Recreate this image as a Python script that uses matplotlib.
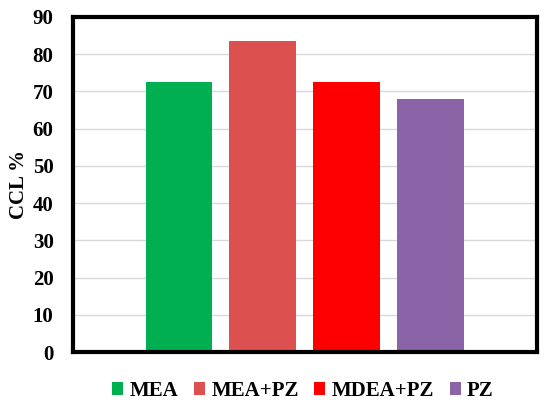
import matplotlib
matplotlib.use("Agg")
import matplotlib.pyplot as plt
from matplotlib.patches import Patch

categories = ["MEA", "MEA+PZ", "MDEA+PZ", "PZ"]
values = [72.6, 83.6, 72.5, 68.1]
colors = ["#00B050", "#DD5050", "#FF0000", "#8A64A6"]
yticks = [0, 10, 20, 30, 40, 50, 60, 70, 80, 90]

plt.rcParams['font.family'] = ['Liberation Serif', 'DejaVu Serif']
plt.rcParams['font.weight'] = 'bold'

fig = plt.figure(figsize=(5.5, 4.07), dpi=100)
ax = fig.add_axes([73/550, 1-352/407, (537-73)/550, (352-17)/407])

x = list(range(len(categories)))
ax.bar(x, values, width=0.79, color=colors, zorder=3)
ax.set_xlim(-1.26, 4.27)
ax.set_ylim(0, 90)
ax.set_yticks(yticks)
ax.set_yticklabels([str(t) for t in yticks], fontsize=15, fontweight='bold')
ax.set_xticks([])
ax.tick_params(axis='y', length=0, pad=14)
ax.grid(axis='y', color='#D9D9D9', linewidth=1, zorder=0)
for s in ax.spines.values():
    s.set_linewidth(3)
    s.set_color('black')
    s.set_zorder(4)
ax.set_ylabel("CCL %", fontsize=15, fontweight='bold', labelpad=3)

handles = [Patch(facecolor=c, edgecolor='none') for c in colors]
fig.legend(handles, categories, loc='center', bbox_to_anchor=(303/550, 1-391/407),
           ncol=4, frameon=False, prop={'size': 15, 'weight': 'bold'},
           handlelength=0.53, handleheight=0.53, handletextpad=0.3, columnspacing=0.75)

fig.savefig("out.png", dpi=100)
